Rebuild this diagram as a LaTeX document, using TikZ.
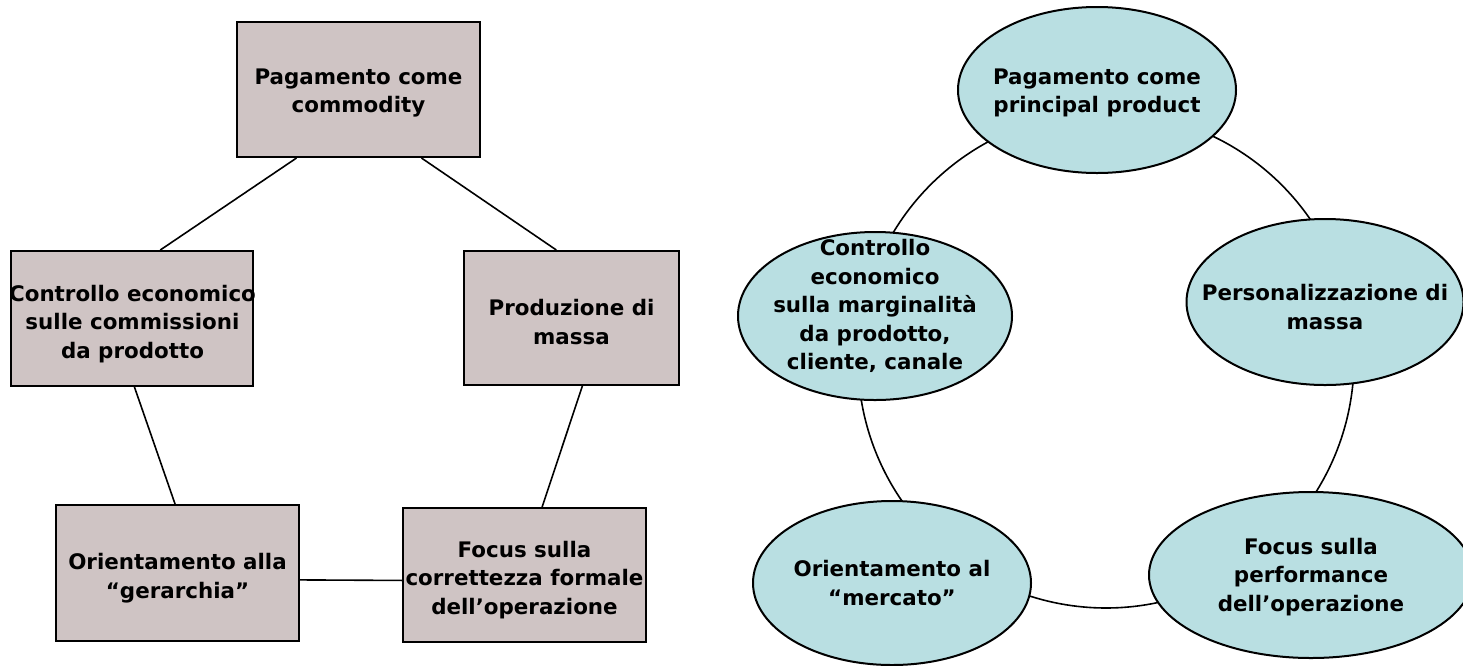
\documentclass[tikz,border=0pt]{standalone}
\usepackage{fontspec}
\setmainfont{DejaVu Sans}
\usetikzlibrary{shapes.geometric,calc,backgrounds}
\definecolor{boxfill}{RGB}{207,196,196}
\definecolor{ellfill}{RGB}{185,223,226}
\begin{document}
\begin{tikzpicture}[x=1pt,y=1pt,
 boxshape/.style={draw=black,line width=2pt,fill=boxfill,rectangle,inner sep=0pt},
 ellshape/.style={draw=black,line width=2pt,fill=ellfill,ellipse,inner sep=0pt},
 lbl/.style={align=center,font=\bfseries\fontsize{21.4}{28.5}\selectfont,inner sep=0pt},
 link/.style={draw=black,line width=1.6pt}]
\useasboundingbox (0,0) rectangle (1463,-665);
% left: boxes
\node[boxshape,minimum width=243pt,minimum height=135pt] (b1) at (358.5,-89.5) {};
\node[boxshape,minimum width=242pt,minimum height=135pt] (b2) at (132,-318.5) {};
\node[boxshape,minimum width=215pt,minimum height=134pt] (b3) at (571.5,-318) {};
\node[boxshape,minimum width=243pt,minimum height=136pt] (b4) at (177.5,-573) {};
\node[boxshape,minimum width=243pt,minimum height=134pt] (b5) at (524.5,-575) {};
\node[lbl] (t1) at (358.5,-93) {Pagamento come\\commodity};
\node[lbl] (t2) at (132.5,-324) {Controllo economico\\sulle commissioni\\da prodotto};
\node[lbl] (t3) at (571.5,-322) {Produzione di\\massa};
\node[lbl] (t4) at (177.5,-578) {Orientamento alla\\“gerarchia”};
\node[lbl] (t5) at (524.5,-580) {Focus sulla\\correttezza formale\\dell’operazione};
\draw[link] ($(b1.south west)!0.247!(b1.south east)$) -- ($(b2.north west)!0.616!(b2.north east)$);
\draw[link] ($(b1.south west)!0.757!(b1.south east)$) -- ($(b3.north west)!0.43!(b3.north east)$);
\draw[link] ($(b2.south west)!0.51!(b2.south east)$) -- ($(b4.north west)!0.49!(b4.north east)$);
\draw[link] ($(b3.south west)!0.55!(b3.south east)$) -- ($(b5.north west)!0.572!(b5.north east)$);
\draw[link] ($(b4.north east)!0.55!(b4.south east)$) -- ($(b5.north west)!0.54!(b5.south west)$);
% right: ellipses
\node[ellshape,minimum width=278pt,minimum height=166pt] (e1) at (1097,-90) {};
\node[ellshape,minimum width=274pt,minimum height=168pt] (e2) at (875,-316) {};
\node[ellshape,minimum width=277pt,minimum height=166pt] (e3) at (1325,-302) {};
\node[ellshape,minimum width=278pt,minimum height=164pt] (e4) at (892,-583) {};
\node[ellshape,minimum width=324pt,minimum height=166pt] (e5) at (1311,-575) {};
\node[lbl] (u1) at (1097,-93) {Pagamento come\\principal product};
\node[lbl] (u2) at (875,-306) {Controllo\\economico\\sulla marginalità\\da prodotto,\\cliente, canale};
\node[lbl] (u3) at (1325,-307) {Personalizzazione di\\massa};
\node[lbl] (u4) at (892,-583) {Orientamento al\\“mercato”};
\node[lbl] (u5) at (1311,-577) {Focus sulla\\performance\\dell’operazione};
\coordinate (cc) at (1106,-360);
\begin{scope}[on background layer]
\draw[link] ($(cc)+(92:248)$) arc[start angle=92,end angle=169,radius=248];
\draw[link] ($(cc)+(169:248)$) arc[start angle=169,end angle=226,radius=248];
\draw[link] ($(cc)+(226:248)$) arc[start angle=226,end angle=314,radius=248];
\draw[link] ($(cc)+(314:248)$) arc[start angle=314,end angle=375,radius=248];
\draw[link] ($(cc)+(15:248)$) arc[start angle=15,end angle=92,radius=248];
\end{scope}
\end{tikzpicture}
\end{document}
